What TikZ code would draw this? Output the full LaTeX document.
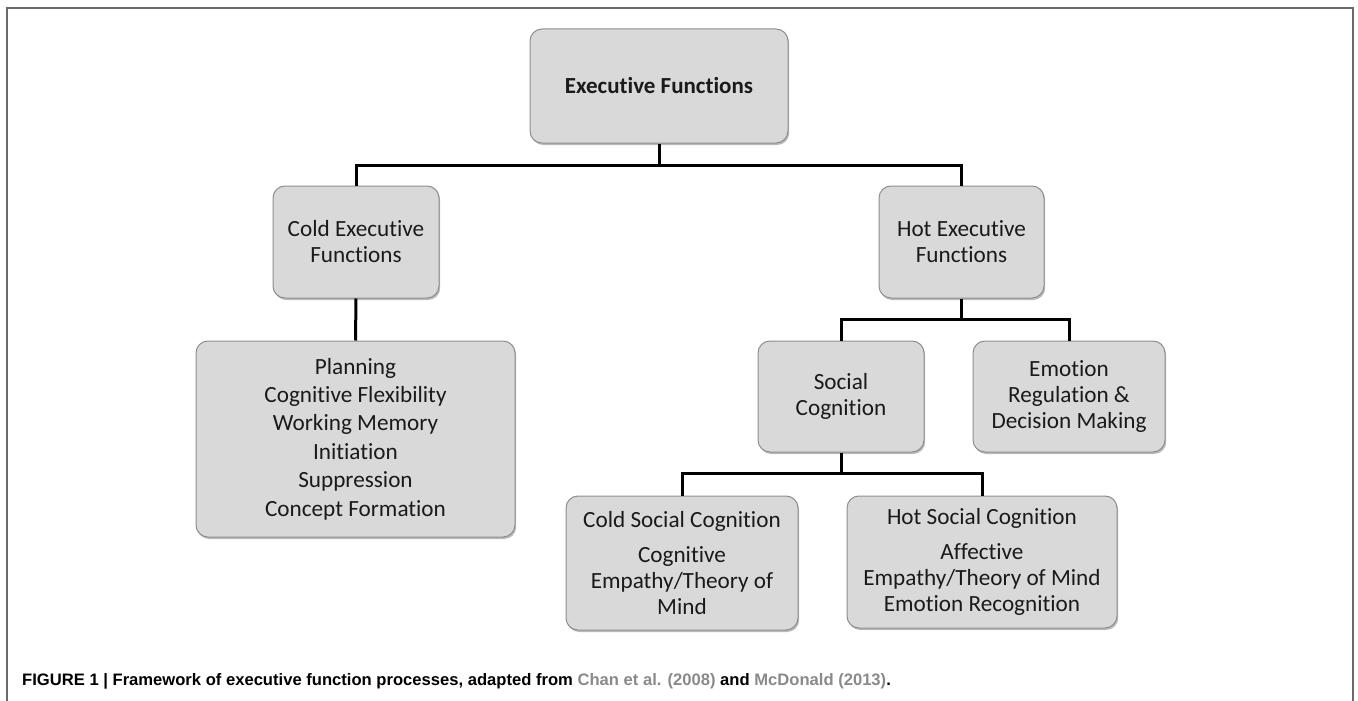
\documentclass[tikz,border=0pt]{standalone}
\usepackage{fontspec}
\usetikzlibrary{shadows}
\newfontfamily\boxfont[Ligatures=NoCommon]{Carlito}
\newfontfamily\capfont{Liberation Sans}
\definecolor{boxfill}{HTML}{D9D9D9}
\definecolor{boxline}{HTML}{8E8E8E}
\definecolor{boxtext}{HTML}{1A1A1A}
\definecolor{framecol}{HTML}{6A6A6A}
\definecolor{citecol}{HTML}{8A8A8A}
\begin{document}
\begin{tikzpicture}[x=1pt,y=-1pt,
  fbox/.style={rectangle, rounded corners=12pt, draw=boxline, line width=1pt,
    fill=boxfill, inner sep=0pt, align=center, text=boxtext,
    font=\boxfont\fontsize{23.2}{26}\selectfont,
    drop shadow={shadow xshift=1.2pt, shadow yshift=-2pt, opacity=0.45, fill=black!60}},
  conn/.style={line width=3pt, black, line cap=butt},
  frameline/.style={draw=framecol, line width=1.4pt}]
\useasboundingbox (0,0) rectangle (1358,701);
% outer frame
\draw[frameline] (7,701) -- (7,8) -- (1353,8) -- (1353,701);
% boxes
\node[fbox, minimum width=258pt, minimum height=114pt, font=\boxfont\bfseries\fontsize{23}{26}\selectfont] (exec) at (659,86) {Executive Functions};
\node[fbox, minimum width=166pt, minimum height=112pt] (cold) at (356,242) {Cold Executive\\Functions};
\node[fbox, minimum width=165pt, minimum height=112pt] (hot) at (961.5,242) {Hot Executive\\Functions};
\node[fbox, minimum width=319pt, minimum height=196pt, font=\boxfont\fontsize{23.2}{28.4}\selectfont] (plan) at (355.5,439) {Planning\\Cognitive Flexibility\\Working Memory\\Initiation\\Suppression\\Concept Formation};
\node[fbox, minimum width=166pt, minimum height=111pt] (social) at (841,396.5) {Social\\Cognition};
\node[fbox, minimum width=192pt, minimum height=111pt] (emo) at (1069,396.5) {Emotion\\Regulation \&\\Decision Making};
\node[fbox, minimum width=232pt, minimum height=134pt] (csoc) at (682,563) {Cold Social Cognition\\[9pt]Cognitive\\Empathy/Theory of\\Mind};
\node[fbox, minimum width=270pt, minimum height=132pt] (hsoc) at (982,562) {Hot Social Cognition\\[9pt]Affective\\Empathy/Theory of Mind\\Emotion Recognition};
% junctions
\coordinate (j1) at (659,165);
\coordinate (j2) at (961.5,319);
\coordinate (j3) at (841,473);
% connectors
\draw[conn] (exec.south) -- (j1);
\draw[conn] (cold.north) |- (j1) -| (hot.north);
\draw[conn] (cold.south) -- (plan.north);
\draw[conn] (hot.south) -- (j2);
\draw[conn] (social.north) |- (j2) -| (emo.north);
\draw[conn] (social.south) -- (j3);
\draw[conn] (csoc.north) |- (j3) -| (hsoc.north);
% caption
\node[anchor=base west, inner sep=0pt, font=\capfont\bfseries\fontsize{16.6}{19}\selectfont] (caption) at (22,685)
  {FIGURE 1 | Framework of executive function processes, adapted from \textcolor{citecol}{Chan et al. (2008)} and \textcolor{citecol}{McDonald (2013)}.};
\end{tikzpicture}
\end{document}
